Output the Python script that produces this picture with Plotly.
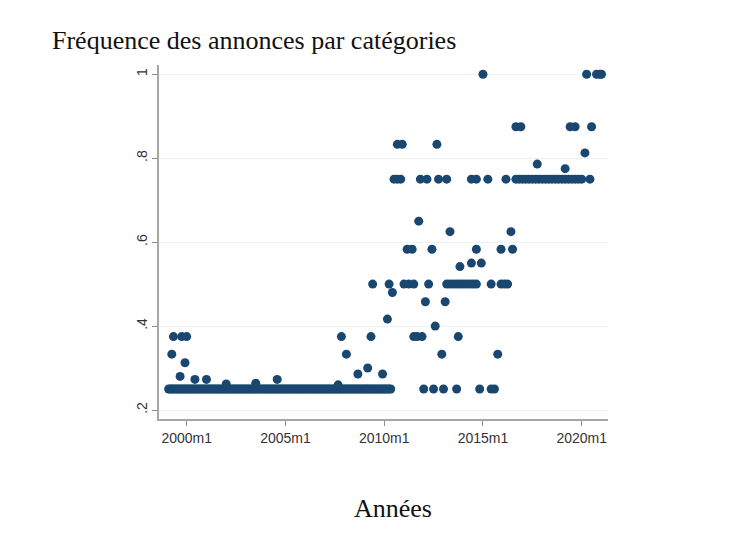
import plotly.graph_objects as go

# ---------------- data ----------------
# continuous run of months at the 0.25 level (dense baseline)
BASELINE = 0.25
base_dates = [
    "1999-02", "1999-03", "1999-04", "1999-05", "1999-06", "1999-07", "1999-08", "1999-09", "1999-10", "1999-11", "1999-12",
    "2000-01", "2000-02", "2000-03", "2000-04", "2000-05", "2000-06", "2000-07", "2000-08", "2000-09", "2000-10", "2000-11", "2000-12",
    "2001-01", "2001-02", "2001-03", "2001-04", "2001-05", "2001-06", "2001-07", "2001-08", "2001-09", "2001-10", "2001-11", "2001-12",
    "2002-01", "2002-02", "2002-03", "2002-04", "2002-05", "2002-06", "2002-07", "2002-08", "2002-09", "2002-10", "2002-11", "2002-12",
    "2003-01", "2003-02", "2003-03", "2003-04", "2003-05", "2003-06", "2003-07", "2003-08", "2003-09", "2003-10", "2003-11", "2003-12",
    "2004-01", "2004-02", "2004-03", "2004-04", "2004-05", "2004-06", "2004-07", "2004-08", "2004-09", "2004-10", "2004-11", "2004-12",
    "2005-01", "2005-02", "2005-03", "2005-04", "2005-05", "2005-06", "2005-07", "2005-08", "2005-09", "2005-10", "2005-11", "2005-12",
    "2006-01", "2006-02", "2006-03", "2006-04", "2006-05", "2006-06", "2006-07", "2006-08", "2006-09", "2006-10", "2006-11", "2006-12",
    "2007-01", "2007-02", "2007-03", "2007-04", "2007-05", "2007-06", "2007-07", "2007-08", "2007-09", "2007-10", "2007-11", "2007-12",
    "2008-01", "2008-02", "2008-03", "2008-04", "2008-05", "2008-06", "2008-07", "2008-08", "2008-09", "2008-10", "2008-11", "2008-12",
    "2009-01", "2009-02", "2009-03", "2009-04", "2009-05", "2009-06", "2009-07", "2009-08", "2009-09", "2009-10", "2009-11", "2009-12",
    "2010-01", "2010-02", "2010-03", "2010-04", "2010-05",
]

# other observations (date, value)
obs_dates = [
    # early years
    "1999-05", "1999-10", "2000-01", "1999-04", "1999-12", "1999-09",
    "2000-06", "2001-01", "2002-01", "2003-07", "2004-08",
    # 2007-2010
    "2007-09", "2007-11", "2008-02", "2008-09", "2009-03", "2009-05",
    "2009-06", "2009-12", "2010-03", "2010-04", "2010-06",
    # 0.25 after 2010
    "2012-01", "2012-07", "2013-01", "2013-09", "2014-11", "2015-06", "2015-08",
    # 0.333 / 0.375 / 0.4 / 0.458
    "2012-12", "2015-10",
    "2011-07", "2011-09", "2011-12", "2013-10",
    "2012-08",
    "2012-02", "2013-02",
    # 0.5 level
    "2011-01", "2011-04", "2011-07", "2012-04",
    "2013-03", "2013-05", "2013-07", "2013-09", "2013-11", "2014-01", "2014-03",
    "2014-05", "2014-07", "2014-09",
    "2015-06", "2015-12", "2016-02", "2016-04",
    # 0.54 / 0.55
    "2013-11", "2014-06", "2014-12",
    # 0.583
    "2011-03", "2011-06", "2012-06", "2014-09", "2015-12", "2016-07",
    # 0.625 / 0.65
    "2013-05", "2016-06", "2011-10",
    # 0.75 level
    "2010-07", "2010-09", "2010-11", "2011-11", "2012-03", "2012-10", "2013-03",
    "2014-06", "2014-09", "2015-04", "2016-03",
    "2016-09", "2016-11", "2017-01", "2017-03", "2017-05", "2017-07", "2017-09",
    "2017-11", "2018-01", "2018-03", "2018-05", "2018-07", "2018-09", "2018-11",
    "2019-01", "2019-03", "2019-05", "2019-07", "2019-09", "2019-11", "2020-01",
    "2020-06",
    # 0.77 - 0.81
    "2017-10", "2019-03", "2020-03",
    # 0.833
    "2010-09", "2010-12", "2012-09",
    # 0.875
    "2016-09", "2016-12", "2019-06", "2019-09", "2020-07",
    # 1
    "2015-01", "2020-04", "2020-10", "2020-12", "2021-01",
]
obs_values = [
    0.375, 0.375, 0.375, 0.333, 0.3125, 0.28,
    0.273, 0.273, 0.262, 0.264, 0.273,
    0.26, 0.375, 0.333, 0.2857, 0.30, 0.375,
    0.5, 0.2857, 0.4167, 0.5, 0.48,
    0.25, 0.25, 0.25, 0.25, 0.25, 0.25, 0.25,
    0.333, 0.333,
    0.375, 0.375, 0.375, 0.375,
    0.40,
    0.458, 0.458,
    0.5, 0.5, 0.5, 0.5,
    0.5, 0.5, 0.5, 0.5, 0.5, 0.5, 0.5,
    0.5, 0.5, 0.5,
    0.5, 0.5, 0.5, 0.5,
    0.5417, 0.55, 0.55,
    0.583, 0.583, 0.583, 0.583, 0.583, 0.583,
    0.625, 0.625, 0.65,
    0.75, 0.75, 0.75, 0.75, 0.75, 0.75, 0.75,
    0.75, 0.75, 0.75, 0.75,
    0.75, 0.75, 0.75, 0.75, 0.75, 0.75, 0.75,
    0.75, 0.75, 0.75, 0.75, 0.75, 0.75, 0.75,
    0.75, 0.75, 0.75, 0.75, 0.75, 0.75, 0.75,
    0.75,
    0.786, 0.775, 0.8125,
    0.833, 0.833, 0.833,
    0.875, 0.875, 0.875, 0.875, 0.875,
    1.0, 1.0, 1.0, 1.0, 1.0,
]

x_tick_dates = ["2000-01-01", "2005-01-01", "2010-01-01", "2015-01-01", "2020-01-01"]
x_tick_labels = ["2000m1", "2005m1", "2010m1", "2015m1", "2020m1"]
y_tick_vals = [0.2, 0.4, 0.6, 0.8, 1.0]
y_tick_labels = [".2", ".4", ".6", ".8", "1"]

# ---------------- figure ----------------
all_dates = base_dates + obs_dates
all_values = [BASELINE] * len(base_dates) + obs_values

NAVY = "#1a476f"

fig = go.Figure(
    go.Scatter(
        x=[d + "-01" for d in all_dates],
        y=all_values,
        mode="markers",
        marker=dict(color=NAVY, size=9, line=dict(width=0)),
        showlegend=False,
        hoverinfo="x+y",
    )
)

# the page body adds an 8px offset, so coordinates are taken 8px up/left
W, H = 746, 533
L, R, T, B = 151, 600, 57, 411
pw, ph = R - L, B - T

tick_font = dict(family="Liberation Sans, Arial", size=14, color="#333333")

fig.update_layout(
    width=W,
    height=H,
    margin=dict(l=L, r=W - R, t=T, b=H - B, autoexpand=False),
    paper_bgcolor="white",
    plot_bgcolor="white",
    xaxis=dict(
        type="date",
        range=["1998-08-07", "2021-05-01"],
        tickvals=x_tick_dates,
        ticktext=x_tick_labels,
        ticks="outside",
        ticklen=5,
        tickcolor="#8c8c8c",
        tickwidth=1,
        showline=True,
        linecolor="#a6a6a6",
        linewidth=1.5,
        showgrid=False,
        zeroline=False,
        tickfont=tick_font,
    ),
    yaxis=dict(
        range=[0.1786, 1.022],
        tickvals=y_tick_vals,
        ticktext=y_tick_labels,
        tickangle=-90,
        ticks="outside",
        ticklen=5,
        tickcolor="#8c8c8c",
        tickwidth=1,
        showline=True,
        linecolor="#a6a6a6",
        linewidth=1.5,
        showgrid=True,
        gridcolor="#eaf2f3",
        gridwidth=1,
        zeroline=False,
        tickfont=tick_font,
    ),
    annotations=[
        dict(
            text="Fréquence des annonces par catégories",
            xref="paper", yref="paper",
            x=(42 - L) / pw, y=(B - 32) / ph,
            xanchor="left", yanchor="middle",
            showarrow=False,
            font=dict(family="Liberation Serif, DejaVu Serif, serif", size=26, color="#111111"),
        ),
        dict(
            text="Années",
            xref="paper", yref="paper",
            x=(385 - L) / pw, y=(B - 500) / ph,
            xanchor="center", yanchor="middle",
            showarrow=False,
            font=dict(family="Liberation Serif, DejaVu Serif, serif", size=26, color="#111111"),
        ),
    ],
)

fig.write_html("out.html")
